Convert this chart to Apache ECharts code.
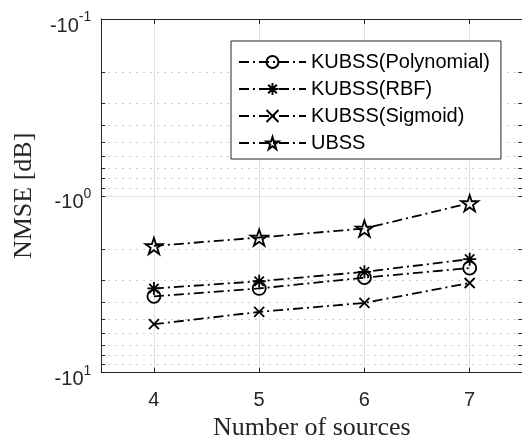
<!DOCTYPE html>
<html>
<head>
<meta charset="utf-8">
<script src="https://cdn.jsdelivr.net/npm/echarts@6/dist/echarts.min.js"></script>
<style>html,body{margin:0;padding:0;background:#fff;}#c{width:522px;height:436px;}</style>
</head>
<body>
<div id="c"></div>
<script>
// ---- data ----
var sources = [4, 5, 6, 7];
var polynomial = [-3.70, -3.34, -2.90, -2.56];
var rbf = [-3.34, -3.04, -2.69, -2.28];
var sigmoid = [-5.32, -4.53, -4.03, -3.11];
var ubss = [-1.92, -1.72, -1.53, -1.10];
var seriesNames = ['KUBSS(Polynomial)', 'KUBSS(RBF)', 'KUBSS(Sigmoid)', 'UBSS'];
// y ticks (magnitude on log axis; shown as negative)
var yMajor = [0.1, 1, 10];
var yExp = ['-1', '0', '1'];
var yMinor = [0.2,0.3,0.4,0.5,0.6,0.7,0.8,0.9,2,3,4,5,6,7,8,9];
var xTicks = [4, 5, 6, 7];

var yAll = yMajor.concat(yMinor);
function pts(arr){ return arr.map(function(v,i){ return [sources[i], Math.abs(v)]; }); }

var starPath = 'path://M0 -1 L0.2245 -0.309 L0.951 -0.309 L0.363 0.118 L0.588 0.809 L0 0.382 L-0.588 0.809 L-0.363 0.118 L-0.951 -0.309 L-0.2245 -0.309 Z';
var asteriskPath = 'path://M0 -1 L0 1 M-1 0 L1 0 M-0.72 -0.72 L0.72 0.72 M-0.72 0.72 L0.72 -0.72';
var crossPath = 'path://M-1 -1 L1 1 M-1 1 L1 -1';

var dash = [10, 4, 2, 4];
var axisColor = '#262626';
var sansFont = '"Liberation Sans", Arial, Helvetica, sans-serif';
var serifFont = '"Liberation Serif", "Times New Roman", serif';

function mkSeries(name, data, symbol, size, bw){
  return {
    name: name, type: 'line', data: pts(data),
    xAxisIndex: 0, yAxisIndex: 0,
    symbol: symbol, symbolSize: size, symbolKeepAspect: true,
    showAllSymbol: true,
    lineStyle: { color: '#000', width: 1.8, type: dash },
    itemStyle: { color: 'none', borderColor: '#000', borderWidth: bw },
    emphasis: { disabled: true },
    silent: true, animation: false, z: 3
  };
}

var chart = echarts.init(document.getElementById('c'), null, { renderer: 'canvas' });
chart.setOption({
  animation: false,
  backgroundColor: '#fff',
  grid: { left: 101.3, top: 19, width: 421, height: 353.7, outerBoundsMode: 'none', containLabel: false },
  legend: {
    orient: 'vertical', left: 231, top: 41,
    padding: [11, 11, 6, 7],
    itemWidth: 67, itemHeight: 15, itemGap: 7,
    backgroundColor: '#fff', borderColor: axisColor, borderWidth: 1,
    textStyle: { fontFamily: sansFont, fontSize: 20, color: '#000', lineHeight: 20 },
    data: seriesNames,
    selectedMode: false
  },
  xAxis: [
    {
      type: 'value', position: 'bottom', min: 3.5, max: 7.5,
      name: 'Number of sources', nameLocation: 'middle', nameGap: 42, nameMoveOverlap: false,
      nameTextStyle: { fontFamily: serifFont, fontSize: 26, color: axisColor },
      axisLine: { show: true, lineStyle: { color: axisColor, width: 1 } },
      axisTick: { show: true, inside: true, length: 5, customValues: xTicks, lineStyle: { color: axisColor } },
      axisLabel: { customValues: xTicks, margin: 18, fontFamily: sansFont, fontSize: 20, color: axisColor },
      splitLine: { show: true, lineStyle: { color: '#e0e0e0', width: 1, type: 'solid' } }
    },
    {
      type: 'value', position: 'top', min: 3.5, max: 7.5,
      axisLine: { show: true, lineStyle: { color: axisColor, width: 1 } },
      axisTick: { show: true, inside: true, length: 5, customValues: xTicks, lineStyle: { color: axisColor } },
      axisLabel: { show: false },
      splitLine: { show: false }
    }
  ],
  yAxis: [
    {
      type: 'log', logBase: 10, min: 0.1, max: 10, inverse: true, position: 'left',
      name: 'NMSE [dB]', nameLocation: 'middle', nameGap: 64, nameRotate: 90, nameMoveOverlap: false,
      nameTextStyle: { fontFamily: serifFont, fontSize: 26, color: axisColor },
      axisLine: { show: true, lineStyle: { color: axisColor, width: 1 } },
      axisTick: { show: true, inside: true, length: 4, customValues: yAll, lineStyle: { color: axisColor } },
      axisLabel: {
        customValues: yMajor, margin: 10,
        formatter: function(v){
          var i = yMajor.findIndex(function(m){ return Math.abs(m - v) / m < 1e-6; });
          return '{top| }\n{sp| }{b|-10}{s|' + yExp[i] + '}';
        },
        rich: {
          top: { fontSize: 1, lineHeight: 8 },
          sp: { fontSize: 1, lineHeight: 26, verticalAlign: 'middle' },
          b: { fontFamily: sansFont, fontSize: 20, color: axisColor, lineHeight: 20, verticalAlign: 'bottom' },
          s: { fontFamily: sansFont, fontSize: 14, color: axisColor, lineHeight: 14, verticalAlign: 'top' }
        }
      },
      splitLine: { show: true, lineStyle: { color: '#bcbcbc', width: 1, type: [1.5, 5.5] } }
    },
    {
      type: 'log', logBase: 10, min: 0.1, max: 10, inverse: true, position: 'right',
      axisLine: { show: true, lineStyle: { color: axisColor, width: 1 } },
      axisTick: { show: true, inside: true, length: 4, customValues: yAll, lineStyle: { color: axisColor } },
      axisLabel: { show: false },
      splitLine: { show: false }
    },
    {
      type: 'log', logBase: 10, min: 0.1, max: 10, inverse: true, position: 'left',
      axisLine: { show: false },
      axisTick: { show: false, customValues: [1] },
      axisLabel: { show: false },
      splitLine: { show: true, lineStyle: { color: '#e0e0e0', width: 1, type: 'solid' } }
    }
  ],
  series: [
    mkSeries(seriesNames[0], polynomial, 'circle', 13, 1.8),
    mkSeries(seriesNames[1], rbf, asteriskPath, 13, 1.8),
    mkSeries(seriesNames[2], sigmoid, crossPath, 10, 1.8),
    mkSeries(seriesNames[3], ubss, starPath, 17, 1.8)
  ]
});
</script>
</body>
</html>
